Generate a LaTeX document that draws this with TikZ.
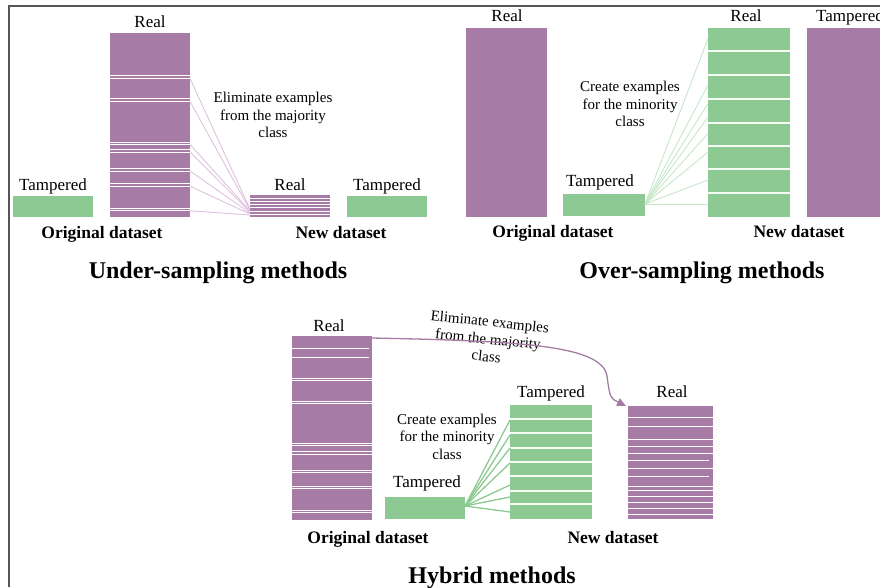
\documentclass[tikz,border=0pt]{standalone}
\usepackage{fontspec}
\setmainfont{Liberation Serif}
\usetikzlibrary{arrows.meta}

\definecolor{realpurple}{HTML}{A67BA5}
\definecolor{tampgreen}{HTML}{8DC993}
\definecolor{linkpink}{HTML}{DDC2DD}
\definecolor{linkgreen}{HTML}{C6E6C8}
\definecolor{framegray}{HTML}{555555}

\begin{document}
\begin{tikzpicture}[x=1pt,y=-1pt,
  bar/.style={anchor=north west, inner sep=0pt, outer sep=0pt, draw=none},
  realbar/.style={bar, fill=realpurple},
  tampbar/.style={bar, fill=tampgreen},
  lbl/.style={anchor=base, inner sep=0pt, font=\fontsize{17}{20}\selectfont},
  note/.style={align=center, inner sep=0pt, font=\fontsize{15}{17.5}\selectfont},
  caption/.style={anchor=base, inner sep=0pt, font=\bfseries\fontsize{17.5}{20}\selectfont},
  heading/.style={anchor=base, inner sep=0pt, font=\bfseries\fontsize{24}{28}\selectfont},
  stripe/.style={white, line width=0.9pt},
  cellline/.style={white!92!tampgreen, line width=1.4pt},
  pinklink/.style={linkpink, line width=0.9pt},
  greenlink/.style={linkgreen, line width=0.9pt},
  hybridlink/.style={tampgreen, line width=1.3pt},
  shrinkarrow/.style={realpurple, line width=1.3pt, -{Triangle[length=9pt,width=8pt]}}
]
\useasboundingbox (0,0) rectangle (880,587);
\clip (0,0) rectangle (880,587);

% frame
\draw[framegray, line width=2pt] (9,587) -- (9,6.3) -- (880,6.3);

% ---------------- Under-sampling ----------------
\node[tampbar, minimum width=80pt, minimum height=21pt] (ut) at (13,196) {};
\node[realbar, minimum width=80pt, minimum height=184pt] (uo) at (110,33) {};
\foreach \y in {75.5,78.5,98.8,101.5,142,144.5,149.5,152,168.5,171,183.5,186.2,208.3,210.8}
  \draw[stripe] (110,\y) -- (190,\y);
\node[realbar, minimum width=80pt, minimum height=22pt] (un) at (250,195) {};
\foreach \y in {198,201.3,204.6,207.9,211.2,214.5}
  \draw[stripe] (250,\y) -- (330,\y);
\node[tampbar, minimum width=80pt, minimum height=21pt] (unt) at (347,196) {};

\node[lbl] (utl) at (53,190.5) {Tampered};
\node[lbl] (uol) at (150,27) {Real};
\node[lbl] (unl) at (290,190.5) {Real};
\node[lbl] (untl) at (387,190.5) {Tampered};
\node[note] (unote) at (273,115) {Eliminate examples\\from the majority\\class};
\node[caption] (uoc) at (102,238) {Original dataset};
\node[caption] (unc) at (341,238) {New dataset};
\node[heading] (uh) at (218,278) {Under-sampling methods};

\foreach \ya/\yb in {78.5/209,101.5/210,144.5/211,152/212,171/213,186.2/214,210.8/215}
  \draw[pinklink] (uo.east |- 0,\ya) -- (un.west |- 0,\yb);

% ---------------- Over-sampling ----------------
\node[realbar, minimum width=81pt, minimum height=189pt] (oo) at (466,28) {};
\node[tampbar, minimum width=82pt, minimum height=22pt] (ot) at (563,194) {};
\node[tampbar, minimum width=82pt, minimum height=189pt] (on) at (708,28) {};
\foreach \y in {51,75,99,123,146,169,193}
  \draw[cellline] (708,\y) -- (790,\y);
\node[realbar, minimum width=80pt, minimum height=189pt] (onp) at (807,28) {};

\node[lbl] (ool) at (507,21.5) {Real};
\node[lbl] (otl) at (600,186) {Tampered};
\node[lbl] (onl) at (746,21.5) {Real};
\node[lbl] (onpl) at (850,21.5) {Tampered};
\node[note] (onote) at (630,104) {Create examples\\for the minority\\class};
\node[caption] (ooc) at (553,237.5) {Original dataset};
\node[caption] (onc) at (799,237.5) {New dataset};
\node[heading] (oh) at (702,278) {Over-sampling methods};

\foreach \yb in {38.5,85,103.5,117,133.5,152,180,204}
  \draw[greenlink] (ot.east |- 0,204) -- (on.west |- 0,\yb);

% ---------------- Hybrid ----------------
\node[realbar, minimum width=80pt, minimum height=184pt] (ho) at (292,336) {};
\foreach \y in {348.3,357.3}
  \draw[stripe] (292,\y) -- (369,\y);
\foreach \y in {378.3,380.3,401.7,403.7,443.3,445.7,451.7,454,470.7,472.7,486,488.3,510,512.3}
  \draw[stripe] (292,\y) -- (372,\y);
\node[tampbar, minimum width=80pt, minimum height=22pt] (ht) at (385,497) {};
\node[tampbar, minimum width=82pt, minimum height=114pt] (hn) at (510,405) {};
\foreach \y in {419,433,448,462,476,491,504}
  \draw[cellline] (510,\y) -- (592,\y);
\node[realbar, minimum width=85pt, minimum height=113pt] (hr) at (628,406) {};
\foreach \y in {417.3,426.7,439.3,446,453.3,468.7,486,490.7,496.7,502.7,508.3,514}
  \draw[stripe] (628,\y) -- (713,\y);
\foreach \y in {460.7,476.7}
  \draw[stripe] (628,\y) -- (709,\y);

\node[lbl] (hol) at (329,331.5) {Real};
\node[lbl] (htl) at (427,487.5) {Tampered};
\node[lbl] (hnl) at (551,397.5) {Tampered};
\node[lbl] (hrl) at (672,397.5) {Real};
\node[note] (hnote) at (447,436.5) {Create examples\\for the minority\\class};
\node[note, rotate=-6] (hrnote) at (488,339) {Eliminate examples\\from the majority\\class};
\node[caption] (hoc) at (368,543) {Original dataset};
\node[caption] (hnc) at (613,543) {New dataset};
\node[heading] (hh) at (492,583) {Hybrid methods};

\foreach \yb in {420,435,448,463,485,497,512}
  \draw[hybridlink] (ht.east |- 0,506) -- (hn.west |- 0,\yb);

\coordinate (arrowend) at ([xshift=-2pt]hr.north west);
\draw[shrinkarrow] (ho.north east |- 0,338)
  .. controls (520,341) and (602,345) .. (607,376)
  .. controls (610,398) .. (arrowend);
\end{tikzpicture}
\end{document}
